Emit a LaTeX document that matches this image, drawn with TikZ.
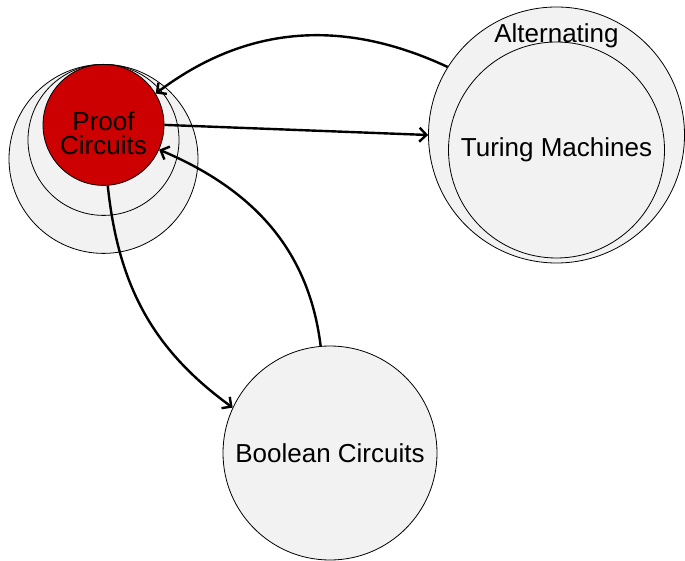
\documentclass[tikz,border=0pt]{standalone}
\usepackage{fontspec}
\setmainfont{Liberation Sans}
\usetikzlibrary{positioning,arrows.meta}
\definecolor{ringFill}{HTML}{F2F2F2}
\definecolor{proofFill}{HTML}{CC0000}

\begin{document}
\begin{tikzpicture}[
    x=1pt, y=1pt,
    ring/.style={
        circle, draw, fill=ringFill,
        inner sep=0pt, line width=0.8pt,
        align=center, font=\fontsize{26}{24}\selectfont
    },
    caption/.style={align=center, font=\fontsize{26}{24}\selectfont},
    arrow/.style={-{Straight Barb[length=7pt,width=14pt]}, line width=2.4pt}
]
  \useasboundingbox (0,0) rectangle (685,560);

  % Nodes
  \coordinate (proofTop) at (103.5,496);
  \node[ring, minimum size=189pt, anchor=north] (proofOuter) at (proofTop) {};
  \node[ring, minimum size=151pt, anchor=north] (proofMid) at (proofTop) {};
  \node[ring, fill=proofFill, minimum size=121pt, anchor=north,
        label={[caption, yshift=-8pt]center:Proof\\Circuits}] (proof) at (proofTop) {};

  % Alternating / Turing Machines
  \node[ring, minimum size=256pt,
        label={[caption, anchor=center, yshift=-29pt]north:Alternating}] (atm) at (556.5,425) {};
  \node[ring, minimum size=216pt] (tm) at ([yshift=-15pt]atm.center) {Turing Machines};

  % Boolean Circuits
  \node[ring, minimum size=214pt] (bool) at (330,107) {Boolean Circuits};

  % Connectors
  \draw[arrow] (atm.148.5) to[out=155, in=37] (proof.31);
  \draw[arrow] (proof.east) -- (atm.west);
  \draw[arrow] (bool.95) to[out=97, in=-23] (proof.-24);
  \draw[arrow] (proof.-86) to[out=-84, in=144] (bool.155);

\end{tikzpicture}
\end{document}
